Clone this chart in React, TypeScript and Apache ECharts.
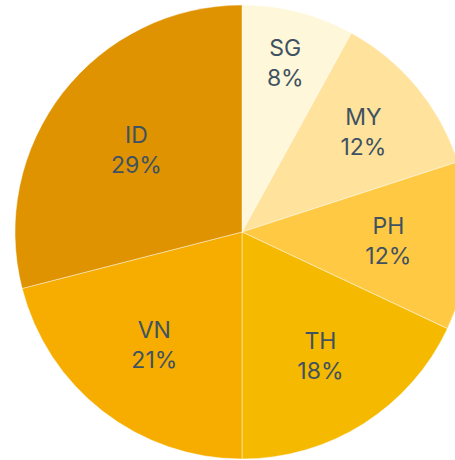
import React, { useEffect, useRef } from "react";
import * as echarts from "echarts";

const categories = ["SG", "MY", "PH", "TH", "VN", "ID"];
const shares = [8, 12, 12, 18, 21, 29];
const sliceColors = ["#FFF7D9", "#FFE39D", "#FFC943", "#F5B900", "#F7AD00", "#E09300"];
// label distance from centre, as a fraction of the radius
const labelRadiusFrac = [0.767, 0.694, 0.646, 0.645, 0.63, 0.589];

const CX = 242;
const CY = 232;
const R = 227;

export default function App() {
  const ref = useRef<HTMLDivElement>(null);
  useEffect(() => {
    if (!ref.current) return;
    const chart = echarts.init(ref.current, null, { renderer: "svg" });
    const total = shares.reduce((a, b) => a + b, 0);
    const mids: number[] = [];
    let acc = 0;
    shares.forEach((v) => {
      mids.push(((acc + v / 2) / total) * Math.PI * 2);
      acc += v;
    });
    chart.setOption({
      animation: false,
      series: [
        {
          type: "pie",
          center: [CX, CY],
          radius: [0, R],
          startAngle: 90,
          clockwise: true,
          avoidLabelOverlap: false,
          itemStyle: { borderColor: "rgba(255,255,255,0.55)", borderWidth: 0.8 },
          label: {
            show: true,
            position: "inside",
            formatter: (p: any) => `${p.name}\n${p.value}%`,
            fontFamily: "Inter",
            fontSize: 23,
            lineHeight: 30,
            color: "#3F5261",
            align: "center",
            verticalAlign: "middle",
          },
          labelLine: { show: false },
          labelLayout: (params: any) => {
            const i = params.dataIndex;
            const a = mids[i];
            const r = labelRadiusFrac[i] * R;
            return {
              x: CX + r * Math.sin(a),
              y: CY - r * Math.cos(a),
              align: "center",
              verticalAlign: "middle",
            };
          },
          emphasis: { disabled: true },
          data: categories.map((c, i) => ({
            name: c,
            value: shares[i],
            itemStyle: { color: sliceColors[i] },
          })),
        },
      ],
    });
    return () => chart.dispose();
  }, []);
  return (
    <div
      ref={ref}
      style={{ position: "fixed", left: 0, top: 0, width: 455, height: 460, background: "#fff" }}
    />
  );
}
